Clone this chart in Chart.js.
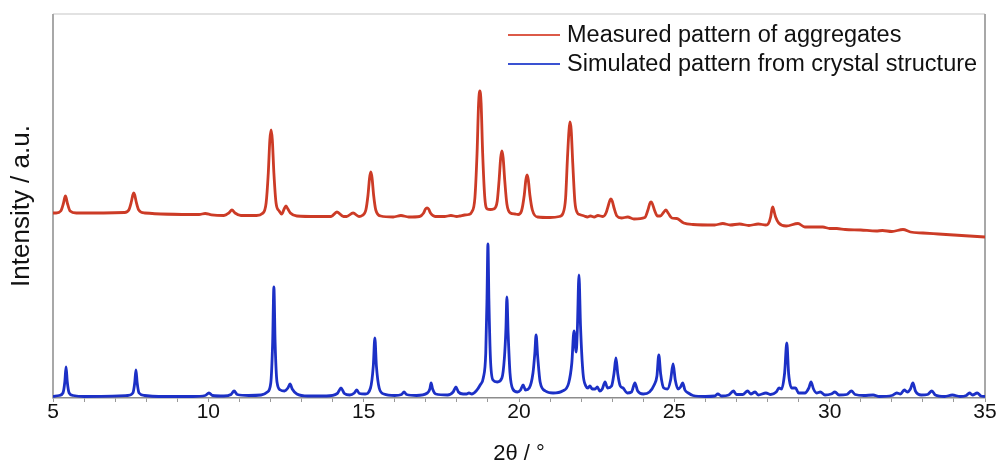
<!DOCTYPE html>
<html>
<head>
<meta charset="utf-8">
<script src="https://cdn.jsdelivr.net/npm/chart.js@4/dist/chart.umd.min.js"></script>
<style>
  body { margin: 0; background: #fff; }
  canvas { display: block; }
</style>
</head>
<body>
<canvas id="xrdChart" width="1000" height="465"></canvas>
<script>
// series labels
const seriesLabels = ['Measured pattern of aggregates', 'Simulated pattern from crystal structure'];

// measured pattern, [2theta, intensity] (offset upwards)
const measured = [
    [5.0, 185], [5.10, 185], [5.25, 187], [5.33, 194], [5.38, 200.5], [5.40, 202], [5.42, 200.5], [5.47, 194], [5.55, 187], [5.75, 185],
    [7.30, 185.5], [7.44, 188], [7.52, 196], [7.57, 203], [7.60, 205], [7.63, 203], [7.68, 196], [7.76, 188], [7.95, 185],
    [9.7, 183.5], [9.9, 184.5], [10.1, 183.2],
    [10.5, 182.5], [10.66, 185], [10.76, 188], [10.86, 185], [11.05, 182.5],
    [11.55, 182.5], [11.74, 184.5], [11.86, 195], [11.93, 225], [11.98, 258], [12.02, 268], [12.06, 258], [12.11, 225], [12.18, 195], [12.28, 187],
    [12.36, 184], [12.44, 189], [12.50, 192], [12.56, 189], [12.64, 185], [12.85, 182],
    [13.5, 181.5], [13.95, 181.5], [14.14, 186], [14.35, 181.5],
    [14.45, 181.5], [14.66, 185], [14.85, 181.5],
    [14.95, 182.5], [15.07, 188], [15.14, 203], [15.19, 220], [15.23, 226], [15.27, 220], [15.32, 203], [15.39, 188], [15.55, 182],
    [15.95, 181], [16.20, 182.5], [16.45, 181],
    [16.8, 181.5], [16.93, 185], [16.99, 189], [17.04, 190], [17.09, 189], [17.15, 185], [17.30, 181.5],
    [17.6, 181.5], [17.81, 182.5], [18.0, 181.5],
    [18.10, 182], [18.25, 183], [18.38, 183.5],
    [18.48, 186], [18.58, 200], [18.65, 245], [18.70, 295], [18.74, 307], [18.78, 295], [18.83, 245], [18.90, 200], [18.98, 189],
    [19.08, 188.5], [19.18, 189],
    [19.25, 191], [19.30, 197], [19.36, 218], [19.41, 240], [19.45, 247], [19.49, 240], [19.54, 218], [19.61, 194], [19.72, 185],
    [19.87, 184], [19.97, 183.5],
    [20.08, 187], [20.17, 203], [20.22, 218], [20.26, 223], [20.30, 218], [20.35, 203], [20.43, 188], [20.60, 181],
    [21.0, 180.5], [21.30, 181.5],
    [21.42, 185], [21.50, 200], [21.56, 240], [21.61, 268], [21.64, 276], [21.68, 268], [21.73, 235], [21.80, 196], [21.88, 185],
    [21.95, 183.5], [22.1, 182], [22.2, 181], [22.3, 182], [22.42, 181], [22.54, 182.5], [22.70, 181.5],
    [22.80, 185], [22.88, 193], [22.93, 198], [22.96, 199], [23.00, 197], [23.06, 190], [23.15, 182], [23.30, 180],
    [23.5, 181], [23.7, 179],
    [24.05, 180.5], [24.15, 188], [24.21, 194.5], [24.25, 196], [24.29, 194.5], [24.36, 188], [24.46, 182],
    [24.55, 182], [24.65, 185.5], [24.73, 188], [24.81, 184.5], [24.92, 180],
    [25.08, 179.5], [25.3, 175], [25.6, 173.5], [26.3, 173],
    [26.56, 174.5], [26.8, 173], [27.1, 174], [27.4, 172.5], [27.7, 174], [27.95, 173],
    [28.02, 174], [28.10, 181], [28.14, 188.5], [28.17, 191], [28.20, 188], [28.26, 181], [28.36, 175], [28.6, 172],
    [28.98, 174.5], [29.2, 171], [29.78, 171], [30.0, 169.5], [30.23, 169.5], [30.5, 168.5],
    [31.0, 168], [31.5, 167], [31.7, 167.5], [32.0, 166.5], [32.36, 168.5], [32.6, 166],
    [33.0, 165], [33.5, 164], [34.0, 163], [34.5, 162], [35.0, 161]
];

// simulated pattern, [2theta, intensity]
const simulated = [
    [5.0, 1.5], [5.2, 2.5], [5.32, 5], [5.38, 16], [5.42, 31], [5.46, 16], [5.52, 5], [5.65, 2.5], [6.0, 1.5],
    [7.4, 2.5], [7.57, 5], [7.63, 15], [7.67, 28], [7.71, 15], [7.77, 5], [7.95, 2.5], [8.4, 1.5],
    [9.5, 1.5], [9.9, 2.5], [10.02, 5], [10.14, 2.5], [10.5, 2], [10.73, 3.5], [10.83, 7], [10.93, 3.5], [11.3, 2.5],
    [11.7, 3], [11.9, 6], [12.01, 15], [12.07, 55], [12.11, 111], [12.15, 55], [12.21, 16], [12.32, 8],
    [12.45, 7], [12.56, 10], [12.63, 14], [12.70, 9], [12.85, 4], [13.2, 2],
    [13.8, 2], [14.15, 4.5], [14.27, 10], [14.38, 4.5], [14.55, 3], [14.70, 5], [14.78, 8], [14.86, 4.5],
    [15.05, 4], [15.22, 10], [15.31, 32], [15.36, 60], [15.41, 32], [15.50, 10], [15.65, 4],
    [16.0, 2.5], [16.22, 3.5], [16.30, 6], [16.38, 3.5], [16.7, 2.5],
    [17.05, 5], [17.13, 9], [17.17, 15], [17.22, 9], [17.32, 4], [17.7, 3], [17.88, 6], [17.97, 11], [18.05, 6],
    [18.2, 4], [18.31, 4], [18.39, 5], [18.48, 4], [18.62, 7], [18.75, 13], [18.85, 20],
    [18.93, 45], [18.97, 100], [19.00, 154], [19.03, 100], [19.08, 40], [19.16, 18], [19.30, 16],
    [19.45, 20], [19.53, 40], [19.58, 70], [19.61, 101], [19.65, 65], [19.71, 25], [19.80, 9],
    [19.95, 6], [20.05, 8], [20.13, 13], [20.21, 8], [20.33, 10],
    [20.45, 25], [20.51, 45], [20.55, 63], [20.60, 42], [20.68, 16], [20.85, 7],
    [21.1, 5], [21.4, 7], [21.6, 15], [21.70, 35], [21.77, 67], [21.84, 46], [21.88, 70], [21.93, 123],
    [21.98, 72], [22.06, 25], [22.15, 12], [22.22, 10], [22.28, 12], [22.36, 9], [22.45, 9], [22.52, 11],
    [22.60, 7], [22.68, 9], [22.77, 16], [22.85, 10], [22.98, 12], [23.06, 25], [23.12, 40], [23.18, 24],
    [23.26, 12], [23.35, 10], [23.48, 5], [23.62, 6], [23.73, 15], [23.82, 7], [24.0, 4],
    [24.2, 6], [24.35, 13], [24.44, 22], [24.50, 43], [24.56, 24], [24.66, 10], [24.78, 9],
    [24.88, 18], [24.96, 34], [25.03, 18], [25.12, 9], [25.20, 11], [25.27, 15], [25.34, 8], [25.45, 5],
    [25.6, 2.5], [26.0, 1.5], [26.3, 2], [26.40, 4], [26.52, 2], [26.75, 3], [26.90, 7], [27.00, 3.5],
    [27.2, 3.5], [27.36, 7], [27.46, 4], [27.60, 6], [27.70, 3], [27.95, 5], [28.10, 3.5],
    [28.28, 6], [28.37, 10], [28.45, 9], [28.55, 25], [28.62, 55], [28.68, 24], [28.78, 10], [28.90, 10],
    [29.00, 5], [29.2, 5], [29.33, 10], [29.40, 16], [29.48, 9], [29.58, 5], [29.70, 6], [29.85, 3],
    [30.05, 4], [30.17, 6], [30.30, 3], [30.55, 3.5], [30.70, 7], [30.82, 3.5], [31.1, 2.5], [31.40, 3],
    [31.6, 1.5], [32.0, 2.5], [32.16, 5], [32.28, 4], [32.40, 8], [32.50, 6], [32.60, 9], [32.68, 15],
    [32.76, 7], [32.95, 3], [33.15, 3.5], [33.29, 7], [33.40, 3], [33.7, 1.5], [33.95, 3], [34.2, 1.5],
    [34.4, 2.5], [34.50, 5], [34.60, 3], [34.75, 5], [34.87, 2], [35.0, 1.5]
];

// x axis range and label steps
const xMin = 5, xMax = 35, xLabelStep = 5;

const fontFamily = "'Liberation Sans', Arial, Helvetica, sans-serif";

// light grey frame round the plot area
const framePlugin = {
    id: 'frame',
    beforeDatasetsDraw(chart) {
        const { ctx, chartArea: a } = chart;
        ctx.save();
        ctx.lineWidth = 1.5;
        ctx.strokeStyle = '#d9d9d9';
        ctx.beginPath();
        ctx.moveTo(a.left, a.top);
        ctx.lineTo(a.right, a.top);
        ctx.stroke();
        ctx.lineWidth = 2;
        ctx.strokeStyle = '#a8a8a8';
        ctx.beginPath();
        ctx.moveTo(a.left, a.top);
        ctx.lineTo(a.left, a.bottom);
        ctx.moveTo(a.right, a.top);
        ctx.lineTo(a.right, a.bottom);
        ctx.stroke();
        ctx.restore();
    }
};

// legend in the top right corner, one line per series
const legendPlugin = {
    id: 'cornerLegend',
    afterDraw(chart) {
        const { ctx } = chart;
        ctx.save();
        ctx.font = '23.5px ' + fontFamily;
        ctx.textBaseline = 'middle';
        ctx.fillStyle = '#111';
        chart.data.datasets.forEach((ds, i) => {
            const y = 35 + i * 29;
            ctx.strokeStyle = ds.legendColor;
            ctx.lineWidth = 2;
            ctx.beginPath();
            ctx.moveTo(508, y);
            ctx.lineTo(560, y);
            ctx.stroke();
            ctx.fillText(ds.label, 567, y + 1);
        });
        ctx.restore();
    }
};

const toPoints = arr => arr.map(p => ({ x: p[0], y: p[1] }));

new Chart(document.getElementById('xrdChart').getContext('2d'), {
    type: 'line',
    data: {
        datasets: [{
            label: seriesLabels[0],
            data: toPoints(measured),
            borderColor: '#cc3b26',
            legendColor: '#dc5a48',
            borderWidth: 2.8,
            pointRadius: 0,
            cubicInterpolationMode: 'monotone',
            fill: false
        }, {
            label: seriesLabels[1],
            data: toPoints(simulated),
            borderColor: '#1c30c6',
            legendColor: '#3a52d2',
            borderWidth: 2.8,
            pointRadius: 0,
            cubicInterpolationMode: 'monotone',
            fill: false
        }]
    },
    options: {
        responsive: false,
        animation: false,
        layout: { padding: { top: 14, right: 15, left: 0, bottom: 0 } },
        plugins: {
            legend: { display: false },
            tooltip: { enabled: false }
        },
        scales: {
            x: {
                type: 'linear',
                min: xMin,
                max: xMax,
                ticks: {
                    stepSize: 1,
                    autoSkip: false,
                    maxRotation: 0,
                    padding: -2,
                    color: '#111',
                    font: { family: fontFamily, size: 21 },
                    callback: v => (v % xLabelStep === 0 ? v : '')
                },
                grid: { drawOnChartArea: false, drawTicks: true, tickLength: 4, color: '#999' },
                border: { display: true, color: '#8c8c8c', width: 1.5 },
                title: {
                    display: true,
                    text: '2θ / °',
                    color: '#111',
                    font: { family: fontFamily, size: 22 },
                    padding: { top: 0, bottom: -2 }
                },
                afterFit: scale => { scale.height = 67; }
            },
            y: {
                min: 0,
                max: 384,
                ticks: { display: false },
                grid: { display: false },
                border: { display: false },
                title: {
                    display: true,
                    text: 'Intensity / a.u.',
                    color: '#111',
                    font: { family: fontFamily, size: 26 },
                    padding: { top: 6, bottom: 0 }
                },
                afterFit: scale => { scale.width = 53; }
            }
        }
    },
    plugins: [framePlugin, legendPlugin]
});
</script>
</body>
</html>
